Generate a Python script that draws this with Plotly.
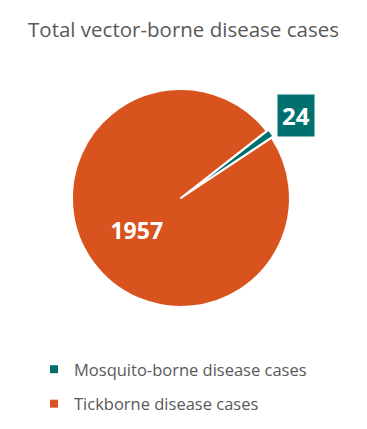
import plotly.graph_objects as go

labels = ["Mosquito-borne disease cases", "Tickborne disease cases"]
values = [24, 1957]
colors = ["#00706F", "#D9531E"]

fig = go.Figure()
fig.add_trace(go.Pie(
    labels=labels, values=values, sort=False, direction="clockwise",
    rotation=52, marker=dict(colors=colors, line=dict(color="white", width=2)),
    pull=[0.02, 0], textinfo="value", textposition=["none", "inside"],
    insidetextorientation="horizontal",
    textfont=dict(family="Open Sans", size=23, color="white", weight="bold"),
    showlegend=False, hoverinfo="label+value",
    domain=dict(x=[0.19, 0.796], y=[0.278, 0.799]),
))
for i, (lab, col) in enumerate(zip(labels, colors)):
    fig.add_trace(go.Scatter(
        x=[None], y=[None], mode="markers", name=lab, legendgroup=str(i),
        marker=dict(symbol="square", size=8, color=col), showlegend=True,
    ))

fig.add_annotation(
    x=296 / 367, y=1 - 116 / 429, xref="paper", yref="paper", text=f"<b>{values[0]}</b>",
    xanchor="center", yanchor="middle",
    showarrow=False, bgcolor=colors[0], font=dict(family="Open Sans", size=24, color="white"),
    borderpad=4,
)

fig.update_layout(
    width=367, height=429, margin=dict(l=0, r=0, t=0, b=0),
    paper_bgcolor="white", plot_bgcolor="white",
    title=dict(text="Total vector-borne disease cases", x=0.5, xanchor="center",
               y=1 - 30 / 429, yanchor="middle",
               font=dict(family="Open Sans", size=20.5, color="#595959")),
    xaxis=dict(visible=False), yaxis=dict(visible=False),
    legend=dict(x=34 / 367, y=1 - 352 / 429, xanchor="left", yanchor="top",
                itemwidth=30,
                font=dict(family="Open Sans", size=16.5, color="#595959"),
                tracegroupgap=10, itemclick=False),
)
fig.write_html("out.html")
